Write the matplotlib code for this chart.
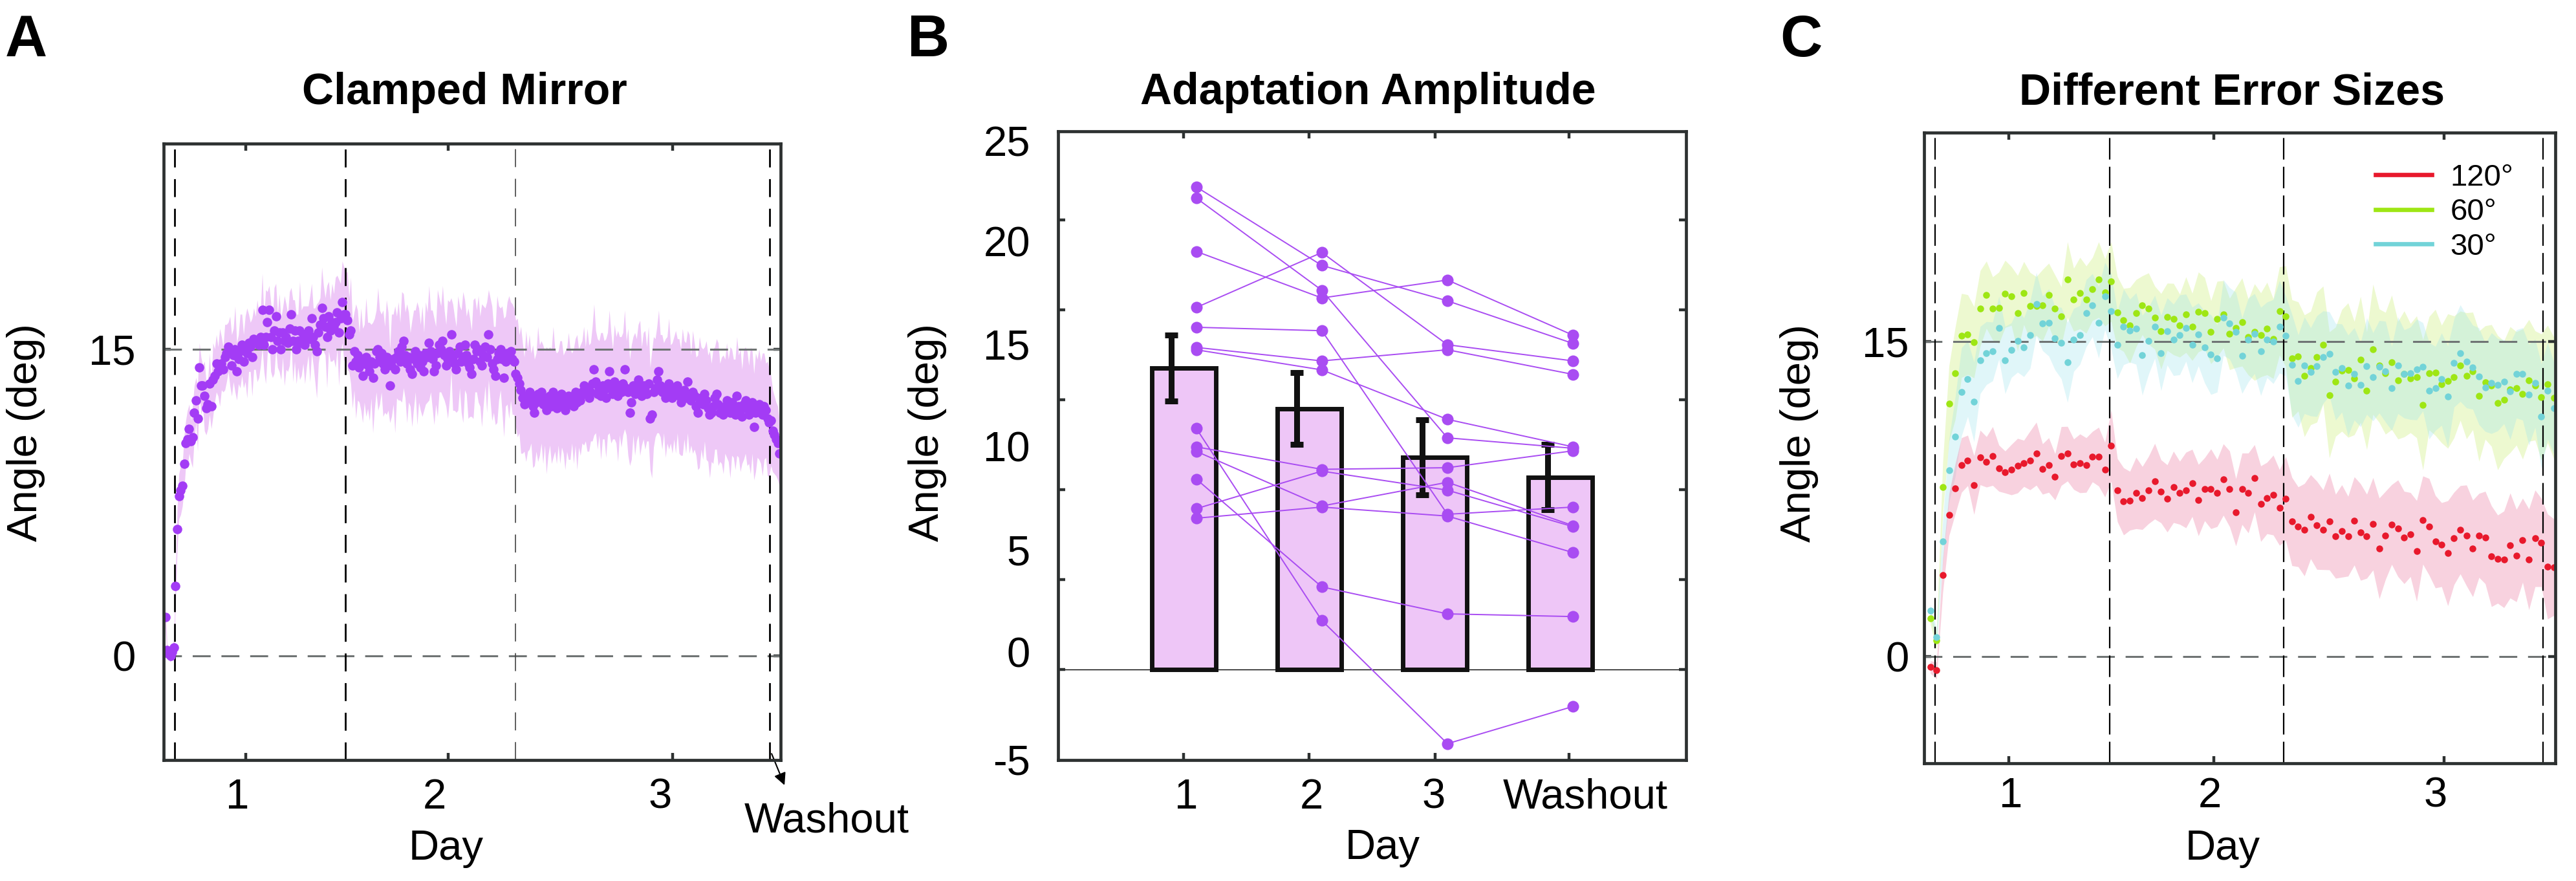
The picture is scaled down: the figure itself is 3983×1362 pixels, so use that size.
import numpy as np
import matplotlib
matplotlib.use('Agg')
import matplotlib.pyplot as plt
from matplotlib.lines import Line2D

plt.rcParams['font.family'] = ['Liberation Sans', 'DejaVu Sans']
plt.rcParams['lines.scale_dashes'] = False

# ======================= Panel A data (Clamped Mirror) =======================
a_base = [1.9, 0.3, 0.1, 0.0, 0.2, 0.4]
a_day1 = [3.4, 6.2, 7.8, 8.1, 8.3, 9.4, 10.4, 10.6, 11.1, 10.5,
          10.7, 11.9, 12.5, 11.6, 14.1, 13.2, 13.2, 12.7, 12.1, 12.3,
          13.3, 12.2, 13.5, 13.7, 14.3, 13.9, 14.1, 14.3, 14.0, 14.6,
          14.8, 15.1, 14.9, 14.2, 14.7, 15.0, 13.9, 14.5, 14.9, 15.2,
          14.4, 15.0, 14.8, 15.3, 15.1, 14.6, 15.5, 15.3, 15.4, 15.2,
          15.6, 16.9, 15.2, 15.6, 16.3, 16.9, 15.6, 15.0, 15.9, 16.6,
          15.4, 15.8, 15.0, 15.8, 15.4, 15.6, 15.3, 16.0, 16.7, 15.4,
          15.9, 15.0, 15.4, 15.9, 15.3, 15.7, 15.2, 15.6, 15.9, 15.5,
          16.5, 15.6, 15.2, 14.9, 15.8, 16.2, 17.0, 16.5, 16.1, 15.6,
          16.6, 15.9, 16.3, 16.1, 16.3, 16.8, 15.8, 16.5, 17.3, 16.7]
a_day2 = [16.7, 16.4, 15.7, 15.9, 14.2, 14.9, 14.4, 14.7, 14.1, 14.5,
          13.7, 14.3, 14.6, 14.2, 13.9, 14.4, 13.6, 14.3, 14.9, 15.0,
          14.6, 14.8, 14.3, 14.0, 14.6, 14.4, 13.2, 14.2, 14.5, 14.0,
          14.6, 14.9, 14.4, 15.1, 15.4, 14.7, 14.3, 14.6, 14.0, 13.8,
          14.5, 14.9, 14.3, 14.7, 14.1, 14.4, 13.9, 14.8, 14.6, 15.3,
          14.9, 14.5, 13.9, 14.2, 14.8, 15.2, 15.0, 15.4, 14.7, 14.2,
          14.5, 14.9, 15.7, 14.6, 14.3, 14.0, 14.8, 15.1, 14.4, 14.6,
          15.2, 14.7, 14.3, 14.1, 13.8, 14.5, 15.2, 14.9, 15.0, 14.4,
          14.2, 14.7, 15.1, 14.6, 15.7, 15.0, 14.3, 14.0, 13.7, 14.5,
          14.8, 15.0, 14.5, 13.6, 14.4, 14.8, 14.6, 14.9, 14.5, 14.4]
a_day3 = [13.8, 13.6, 13.3, 13.0, 12.6, 12.3, 12.7, 12.5, 12.9, 12.6,
          12.2, 11.9, 12.4, 12.8, 12.5, 12.9, 12.3, 12.6, 12.0, 12.4,
          12.7, 12.2, 12.9, 12.5, 12.1, 12.6, 12.4, 12.8, 12.3, 12.0,
          12.5, 12.7, 12.3, 12.6, 12.2, 12.9, 12.4, 12.6, 12.5, 12.9,
          13.2, 12.8, 13.0, 12.6, 12.9, 13.3, 14.0, 13.4, 12.8, 13.1,
          12.7, 13.2, 13.0, 12.6, 13.3, 13.9, 13.1, 12.8, 13.4, 13.0,
          12.7, 13.2, 12.9, 13.3, 14.0, 13.1, 12.9, 11.9, 12.4, 13.2,
          12.8, 13.0, 13.5, 13.1, 12.7, 13.2, 13.0, 12.8, 13.3, 11.6,
          11.8, 12.9, 13.1, 13.5, 13.9, 13.2, 12.9, 13.1, 12.6, 13.0,
          13.3, 12.8, 12.6, 13.1, 12.9, 13.2, 12.7, 12.4, 12.9, 13.0,
          12.6, 13.4, 12.8, 12.5, 12.9, 12.7, 12.2, 11.9, 12.4, 12.6,
          12.3, 12.8, 12.5, 12.1, 11.8, 11.9, 12.2, 12.6, 12.8, 12.3,
          11.9, 12.0, 11.8, 12.2, 12.5, 12.0, 11.9, 12.4, 12.1, 11.8,
          12.7, 12.2, 12.0, 11.7, 12.3, 12.5, 12.1, 11.8, 12.0, 12.4,
          11.2, 11.9, 12.1, 12.3, 11.9, 11.8, 12.2, 12.0, 11.6, 11.4]
a_wash = [11.5, 11.0, 10.8, 10.6, 10.4, 9.9]

a_base_se = [0.5, 0.3, 0.3, 0.3, 0.3, 0.4]
a_day1_se = [0.8, 1.0, 1.1, 1.2, 1.0, 1.3, 1.1, 1.4, 1.2, 1.0,
             1.5, 1.3, 1.1, 1.6, 1.2, 1.4, 1.0, 1.7, 1.3, 1.2,
             1.5, 1.1, 1.8, 1.3, 1.4, 1.2, 1.9, 1.3, 1.1, 1.6,
             1.4, 1.2, 1.7, 1.5, 1.3, 2.1, 1.4, 1.2, 1.8, 1.5,
             1.3, 1.6, 2.2, 1.4, 1.2, 1.9, 1.5, 1.3, 2.0, 1.6,
             1.4, 1.8, 1.3, 2.3, 1.5, 1.2, 1.7, 1.4, 2.1, 1.6,
             1.3, 1.9, 1.5, 1.2, 2.2, 1.6, 1.4, 1.8, 1.3, 2.0,
             1.5, 1.7, 1.3, 2.4, 1.6, 1.4, 1.9, 1.5, 1.2, 2.1,
             1.7, 1.4, 1.8, 2.3, 1.5, 1.3, 2.0, 1.6, 1.4, 2.5,
             1.7, 1.5, 1.9, 1.6, 2.2, 1.8, 2.6, 1.7, 2.0, 2.3]
a_day2_se = [2.0, 2.4, 1.8, 2.6, 2.1, 1.9, 2.8, 2.2, 1.7, 2.5,
             2.3, 1.9, 2.9, 2.1, 2.4, 1.8, 2.7, 2.2, 2.0, 3.0,
             2.3, 1.9, 2.6, 2.1, 2.8, 2.4, 1.8, 2.5, 2.2, 3.1,
             2.0, 2.4, 1.9, 2.7, 2.3, 2.1, 2.9, 2.2, 1.8, 2.6,
             2.4, 2.0, 3.0, 2.3, 2.1, 2.7, 1.9, 2.5, 2.2, 2.8,
             2.0, 2.4, 2.6, 1.9, 3.1, 2.3, 2.1, 2.7, 2.2, 2.0,
             2.9, 2.4, 1.8, 2.6, 2.3, 2.1, 2.8, 2.0, 2.5, 3.2,
             2.2, 1.9, 2.7, 2.4, 2.1, 2.9, 2.3, 2.0, 2.6, 2.2,
             3.0, 2.4, 1.9, 2.7, 2.2, 2.5, 2.8, 2.1, 2.4, 3.1,
             2.3, 2.0, 2.6, 2.9, 2.2, 2.5, 3.0, 2.4, 2.7, 2.6]
a_day3_se = [2.6, 2.9, 2.4, 3.1, 2.7, 2.3, 3.2, 2.5, 2.8, 2.2,
             3.0, 2.6, 2.4, 3.3, 2.7, 2.5, 2.9, 2.3, 3.1, 2.6,
             2.4, 2.8, 3.2, 2.5, 2.7, 2.3, 3.0, 2.6, 2.4, 2.9,
             2.5, 3.1, 2.7, 2.2, 2.8, 2.6, 3.3, 2.4, 2.7, 2.5,
             2.9, 2.3, 3.0, 2.6, 2.4, 2.8, 3.2, 2.5, 2.7, 2.3,
             3.1, 2.6, 2.4, 2.9, 2.5, 3.0, 2.7, 2.2, 2.8, 2.6,
             3.2, 2.4, 2.7, 2.5, 2.9, 2.3, 3.1, 2.6, 2.8, 2.4,
             3.0, 2.5, 2.7, 3.3, 2.4, 2.6, 2.9, 2.3, 2.8, 2.5,
             3.1, 2.7, 2.4, 2.6, 3.0, 2.5, 2.8, 2.2, 2.9, 2.6,
             3.2, 2.4, 2.7, 2.5, 3.0, 2.3, 2.8, 2.6, 3.1, 2.4,
             2.7, 2.5, 2.9, 2.2, 3.0, 2.6, 2.4, 2.8, 3.2, 2.5,
             2.7, 2.3, 2.9, 2.6, 3.1, 2.4, 2.8, 2.5, 2.7, 3.0,
             2.4, 2.6, 2.9, 2.3, 2.8, 2.5, 3.2, 2.6, 2.4, 2.7,
             2.9, 2.5, 3.0, 2.3, 2.7, 2.6, 2.8, 2.4, 3.1, 2.5,
             2.6, 2.9, 2.4, 2.7, 2.5, 3.0, 2.6, 2.3, 2.8, 2.6]
a_wash_se = [2.2, 2.0, 1.9, 1.8, 1.8, 1.6]

a_block_edges = [6.5, 106.8, 206.8, 356.3]
a_tick_marks = [48.1, 167.4, 299.3]
a_tick_label_pos = [43.3, 159.3, 292.0]
day_labels = ['1', '2', '3']

# ======================= Panel B data (Adaptation Amplitude) =======================
b_conditions = ['1', '2', '3', 'Washout']
b_bar_mean = [16.75, 14.5, 11.8, 10.7]
b_bar_sem = [1.83, 2.0, 2.1, 1.8]
b_subj_day1 = [26.84, 26.22, 23.25, 20.13, 19.03, 17.91, 17.78, 13.41, 12.38, 12.13, 10.59, 8.94, 8.41]
b_subj_day2 = [22.47, 21.09, 20.66, 23.19, 18.84, 17.16, 16.66, 2.72, 11.13, 9.09, 4.59, 11.03, 9.03]
b_subj_day3 = [20.5, 12.88, 21.66, 18.06, 8.63, 17.78, 13.91, -4.13, 11.22, 10.41, 3.09, 9.97, 8.53]
b_subj_wash = [18.13, 12.3, 18.59, 17.16, 9.03, 16.41, 12.38, -2.06, 12.16, 8.0, 2.94, 7.94, 6.5]
b_ytick_marks = [0, 5, 10, 15, 20, 25]
b_ylabel_text = ['25', '20', '15', '10', '5', '0', '-5']
b_ylabel_pos = [29.4, 23.8, 18.1, 12.4, 6.66, 0.97, -5.0]
b_xtick_marks = [1, 2, 3, 4.07]
b_xlabel_pos = [1.02, 2.02, 2.99, 4.2]

# ======================= Panel C data (Different Error Sizes) =======================
c_labels = ['120°', '60°', '30°']
c_120 = [-0.5, -0.66, 3.87, 6.76, 8.0, 9.12, 9.34, 8.17, 9.48, 9.27,
         9.55, 8.97, 8.79, 8.9, 9.09, 9.2, 9.34, 9.66, 8.93, 9.12,
         8.56, 9.55, 9.66, 9.16, 9.2, 9.12, 9.52, 9.52, 8.9, 10.05,
         7.93, 7.39, 7.42, 7.79, 7.55, 7.93, 8.35, 7.87, 7.53, 8.08,
         7.80, 7.93, 8.27, 7.45, 7.97, 7.99, 7.79, 8.43, 7.99, 6.87,
         7.99, 7.79, 8.49, 7.28, 7.55, 7.69, 7.10, 7.53, 6.43, 6.18,
         6.04, 6.66, 6.25, 6.04, 6.43, 5.73, 5.98, 5.73, 6.46, 5.93,
         5.73, 6.32, 5.15, 5.77, 6.29, 6.11, 5.67, 5.81, 5.03, 6.50,
         6.18, 5.47, 5.33, 4.92, 5.63, 6.04, 5.77, 5.15, 5.77, 5.67,
         4.78, 4.64, 4.63, 5.29, 4.81, 5.54, 4.63, 5.63, 5.43, 4.29,
         4.26]
c_60 = [1.83, 0.76, 8.06, 12.05, 13.49, 15.29, 15.33, 14.97, 16.58, 17.23,
        16.58, 16.61, 17.27, 17.17, 16.35, 17.31, 16.69, 16.69, 16.73, 17.23,
        16.57, 16.21, 17.95, 16.99, 17.31, 17.0, 17.5, 17.95, 17.34, 17.86,
        16.4, 16.03, 15.77, 16.35, 16.73, 16.57, 16.14, 15.49, 16.18, 16.07,
        15.76, 16.28, 15.70, 16.41, 16.35, 15.45, 16.07, 16.30, 15.36, 15.66,
        15.93, 15.21, 15.45, 15.32, 15.62, 15.14, 16.46, 16.21, 14.19, 14.29,
        13.37, 13.74, 14.26, 14.84, 12.46, 13.09, 13.63, 13.64, 13.26, 14.15,
        12.66, 14.63, 13.85, 13.49, 14.01, 13.16, 13.46, 13.26, 13.32, 11.99,
        13.49, 13.53, 12.98, 13.12, 13.32, 13.85, 13.37, 13.60, 12.40, 13.05,
        12.91, 12.09, 12.23, 12.71, 12.77, 12.50, 13.15, 12.91, 12.36, 12.98,
        12.32]
c_30 = [2.2, 0.93, 5.49, 8.86, 10.47, 12.61, 13.23, 12.13, 14.12, 14.45,
        14.53, 15.66, 14.12, 14.59, 15.04, 14.73, 15.32, 16.79, 15.87, 15.91,
        15.15, 14.93, 14.01, 15.08, 15.32, 16.35, 16.73, 15.91, 17.17, 16.44,
        14.84, 15.70, 15.52, 15.62, 14.35, 15.04, 15.70, 14.46, 15.48, 15.08,
        15.32, 15.66, 14.84, 15.34, 14.73, 14.38, 14.19, 16.14, 15.87, 15.45,
        14.33, 15.08, 15.38, 14.53, 15.08, 15.0, 15.70, 15.27, 13.90, 13.12,
        13.87, 13.56, 13.83, 14.26, 14.42, 13.56, 13.74, 12.91, 13.46, 12.95,
        13.83, 13.32, 13.80, 13.57, 12.77, 13.87, 13.46, 13.49, 13.67, 13.80,
        12.66, 12.77, 13.21, 12.39, 13.98, 14.45, 14.04, 13.78, 13.35, 12.82,
        13.02, 12.95, 13.09, 12.64, 13.46, 13.46, 12.47, 13.02, 11.44, 12.66,
        11.84]
c_120_se = [0.3, 0.4, 0.8, 1.0, 1.2, 1.3, 1.2, 1.4, 1.3, 1.2,
            1.4, 1.1, 1.0, 1.2, 1.3, 1.1, 1.4, 1.5, 1.2, 1.3,
            1.1, 1.4, 1.3, 1.2, 1.4, 1.3, 1.2, 1.4, 1.3, 1.7,
            1.5, 1.6, 1.4, 1.7, 1.5, 1.6, 1.8, 1.5, 1.6, 1.7,
            1.5, 1.8, 1.6, 1.7, 1.5, 1.9, 1.6, 1.7, 1.8, 1.6,
            1.7, 1.9, 1.6, 1.8, 1.7, 1.9, 1.8, 2.0, 2.1, 1.9,
            2.2, 2.0, 2.1, 1.9, 2.3, 2.0, 2.2, 1.9, 2.1, 2.3,
            2.0, 2.2, 2.4, 2.1, 1.9, 2.3, 2.2, 2.0, 2.4, 2.1,
            2.3, 2.2, 2.0, 2.5, 2.2, 2.1, 2.4, 2.3, 2.0, 2.2,
            2.4, 2.1, 2.3, 2.5, 2.2, 2.0, 2.4, 2.3, 2.1, 2.5,
            2.3]
c_60_se = [0.3, 0.4, 1.2, 1.8, 2.2, 2.0, 1.9, 1.7, 1.8, 1.6,
           1.5, 1.7, 1.6, 1.4, 1.8, 1.5, 1.6, 1.4, 1.7, 1.5,
           1.6, 1.4, 1.8, 1.5, 1.7, 1.6, 1.5, 1.8, 1.6, 1.9,
           1.7, 1.5, 1.8, 1.6, 1.4, 1.7, 1.5, 1.8, 1.6, 1.7,
           1.5, 1.8, 1.6, 1.9, 1.7, 1.5, 1.8, 1.6, 1.7, 1.9,
           2.1, 1.8, 2.3, 2.0, 2.2, 1.9, 2.1, 2.4, 2.8, 2.6,
           2.9, 2.7, 3.1, 2.8, 3.0, 2.6, 2.9, 3.2, 2.7, 3.0,
           2.8, 3.1, 2.7, 2.9, 3.2, 2.8, 3.0, 2.6, 2.9, 3.1,
           2.7, 3.0, 2.8, 3.2, 2.9, 2.6, 3.0, 2.8, 3.1, 2.7,
           2.9, 3.2, 2.8, 3.0, 2.7, 3.1, 2.9, 2.6, 3.0, 2.8,
           2.9]
c_30_se = [0.3, 0.4, 1.0, 1.5, 1.9, 2.1, 1.8, 1.9, 1.6, 1.5,
           1.4, 1.5, 1.6, 1.3, 1.5, 1.4, 1.6, 1.5, 1.3, 1.6,
           1.5, 1.7, 1.9, 1.5, 1.4, 1.6, 1.5, 1.7, 1.6, 1.8,
           1.6, 1.8, 1.5, 1.7, 1.9, 1.6, 1.5, 1.8, 1.6, 1.7,
           1.9, 1.6, 1.8, 1.5, 1.7, 1.9, 1.6, 1.8, 1.7, 1.9,
           1.8, 2.0, 1.9, 2.1, 1.8, 2.0, 2.2, 1.9, 2.4, 2.2,
           2.3, 2.1, 2.4, 2.2, 2.0, 2.3, 2.1, 2.4, 2.2, 2.0,
           2.3, 2.1, 2.2, 2.4, 2.0, 2.3, 2.1, 2.2, 2.4, 2.1,
           2.3, 2.0, 2.2, 2.4, 2.1, 2.3, 2.2, 2.0, 2.3, 2.1,
           2.4, 2.2, 2.0, 2.3, 2.1, 2.2, 2.4, 2.1, 2.5, 2.3,
           2.2]
c_block_edges = [1.73, 29.8, 57.7, 99.3]
c_tick_marks = [13.56, 46.5, 83.4]
c_tick_label_pos = [13.9, 45.8, 82.0]

# ======================= styling =======================
W, H = 3983, 1362
FS = 47
SPINE = '#2d3131'
fig = plt.figure(figsize=(W / 100, H / 100), dpi=100)


def px_axes(left, top, right, bottom):
    return fig.add_axes([left / W, (H - bottom) / H, (right - left) / W, (bottom - top) / H])


def style(ax, ypad, xpad):
    for s in ax.spines.values():
        s.set_linewidth(3.4)
        s.set_color(SPINE)
        s.set_zorder(6)
    ax.tick_params(which='major', direction='in', length=8, width=3.2, top=True, right=True,
                   color=SPINE, labelsize=FS, labelcolor='black')
    ax.tick_params(axis='y', which='both', pad=ypad)
    ax.tick_params(axis='x', which='both', pad=xpad)


def split_ticks(ax, axis, marks, label_pos, labels):
    if axis == 'x':
        ax.set_xticks(marks)
        ax.set_xticklabels([])
        ax.set_xticks(label_pos, minor=True)
        ax.set_xticklabels(labels, minor=True, fontsize=FS)
        ax.tick_params(axis='x', which='minor', length=0, top=False)
    else:
        ax.set_yticks(marks)
        ax.set_yticklabels([])
        ax.set_yticks(label_pos, minor=True)
        ax.set_yticklabels(labels, minor=True, fontsize=FS)
        ax.tick_params(axis='y', which='minor', length=0, right=False)


def place_labels(ax, title, tx, ty, ylx, yly, xlx, xly):
    ax.set_title(title, fontsize=49, fontweight='bold', x=tx, y=ty, va='baseline', pad=0)
    ax.set_ylabel('Angle (deg)', fontsize=FS)
    ax.yaxis.set_label_coords(ylx, yly)
    ax.yaxis.label.set_va('center')
    ax.yaxis.label.set_ha('center')
    ax.yaxis.label.set_rotation_mode('anchor')
    ax.set_xlabel('Day', fontsize=FS)
    ax.xaxis.set_label_coords(xlx, xly)
    ax.xaxis.label.set_va('baseline')


# ----------------------------- Panel A -----------------------------
axA = px_axes(253, 222, 1207, 1175)
vA = np.array(a_base + a_day1 + a_day2 + a_day3 + a_wash)
sA = np.array(a_base_se + a_day1_se + a_day2_se + a_day3_se + a_wash_se)
xA = np.arange(1, len(vA) + 1)
axA.fill_between(xA, vA - sA, vA + sA, color='#EEC8F7', lw=0, zorder=1)
for yv in [0, 15]:
    axA.axhline(yv, color='#6f7474', lw=2.2, dashes=(20, 12), zorder=2)
for xv, lw, c in zip(a_block_edges, [2.0, 2.0, 1.2, 2.0], ['black', 'black', '#444444', 'black']):
    axA.axvline(xv, color=c, lw=lw, dashes=(20, 13), zorder=2)
axA.plot(xA, vA, 'o', ms=10.5, color='#A33CF5', mec='none', zorder=3)
axA.set_xlim(0, 362.7)
axA.set_ylim(-5.09, 25.04)
style(axA, ypad=31, xpad=20)
axA.set_yticks([0, 15])
axA.set_yticklabels(['0', '15'])
split_ticks(axA, 'x', a_tick_marks, a_tick_label_pos, day_labels)
place_labels(axA, 'Clamped Mirror', 0.488, 1.064, -0.223, 0.531, 0.458, -0.1616)
axA.annotate('', xy=(365.4, -6.4), xytext=(357.0, -4.7), annotation_clip=False,
             arrowprops=dict(arrowstyle='-|>', color='black', lw=1.5, mutation_scale=28))
axA.text(341.4, -8.6, 'Washout', fontsize=FS, ha='left', va='baseline', clip_on=False)

# ----------------------------- Panel B -----------------------------
axB = px_axes(1636, 203, 2607, 1175)
xB = np.arange(1, len(b_conditions) + 1)
axB.bar(xB, b_bar_mean, width=0.51, color='#EEC6F7', edgecolor='#111111', linewidth=5, zorder=2)
axB.errorbar(xB - 0.1, b_bar_mean, yerr=b_bar_sem, fmt='none', ecolor='#111111',
             elinewidth=6.5, capsize=7.5, capthick=6.5, zorder=3)
axB.axhline(0, color='black', lw=1.0, zorder=1.5)
subj = np.array([b_subj_day1, b_subj_day2, b_subj_day3, b_subj_wash])
for k in range(subj.shape[1]):
    axB.plot(xB + 0.1, subj[:, k], '-o', color='#A94CF2', lw=1.4, ms=13, mec='none', zorder=4)
axB.set_xlim(0, 5)
axB.set_ylim(-5.04, 29.93)
style(axB, ypad=31, xpad=20)
split_ticks(axB, 'y', b_ytick_marks, b_ylabel_pos, b_ylabel_text)
split_ticks(axB, 'x', b_xtick_marks, b_xlabel_pos, b_conditions)
place_labels(axB, 'Adaptation Amplitude', 0.4933, 1.0432, -0.208, 0.5206, 0.517, -0.1574)

# ----------------------------- Panel C -----------------------------
axC = px_axes(2975, 205, 3951, 1180)
series = [(c_120, c_120_se, '#E8192C', '#EE8FB0', 0.40),
          (c_60, c_60_se, '#9EE614', '#D4F08A', 0.40),
          (c_30, c_30_se, '#72D3D8', '#9BE3EC', 0.30)]
xC = np.arange(1, len(c_120) + 1)
for order in [1, 2, 0]:
    v, s, dc, fc, al = series[order]
    v = np.array(v); s = np.array(s)
    axC.fill_between(xC, v - s, v + s, color=fc, alpha=al, lw=0, zorder=1)
for yv in [0, 15]:
    axC.axhline(yv, color='#6f7474', lw=2.2, dashes=(20, 12), zorder=2)
for xv in c_block_edges:
    axC.axvline(xv, color='black', lw=1.6, dashes=(24, 8), zorder=2)
for order in [0, 1, 2]:
    v, s, dc, fc, al = series[order]
    axC.plot(xC, v, 'o', ms=7.6, color=dc, mec='none', zorder=3)
axC.set_xlim(0, 101.24)
axC.set_ylim(-5.08, 24.95)
style(axC, ypad=17, xpad=15)
axC.set_yticks([0, 15])
axC.set_yticklabels(['0', '15'])
split_ticks(axC, 'x', c_tick_marks, c_tick_label_pos, day_labels)
place_labels(axC, 'Different Error Sizes', 0.4877, 1.0451, -0.1977, 0.524, 0.473, -0.1528)
handles = [Line2D([0], [0], color=series[i][2], lw=4.8) for i in range(3)]
axC.legend(handles, c_labels, loc='upper left', bbox_to_anchor=(0.715, 0.951), frameon=False,
           fontsize=34, handlelength=1.85, handletextpad=0.6, labelspacing=0.2,
           borderpad=0, borderaxespad=0)

# ----------------------------- panel letters -----------------------------
for letter, lx in [('A', 8), ('B', 1403), ('C', 2752)]:
    fig.text(lx / W, 1 - 87 / H, letter, fontsize=65, fontweight='bold', ha='left', va='baseline')

fig.savefig('out.png', dpi=100)
